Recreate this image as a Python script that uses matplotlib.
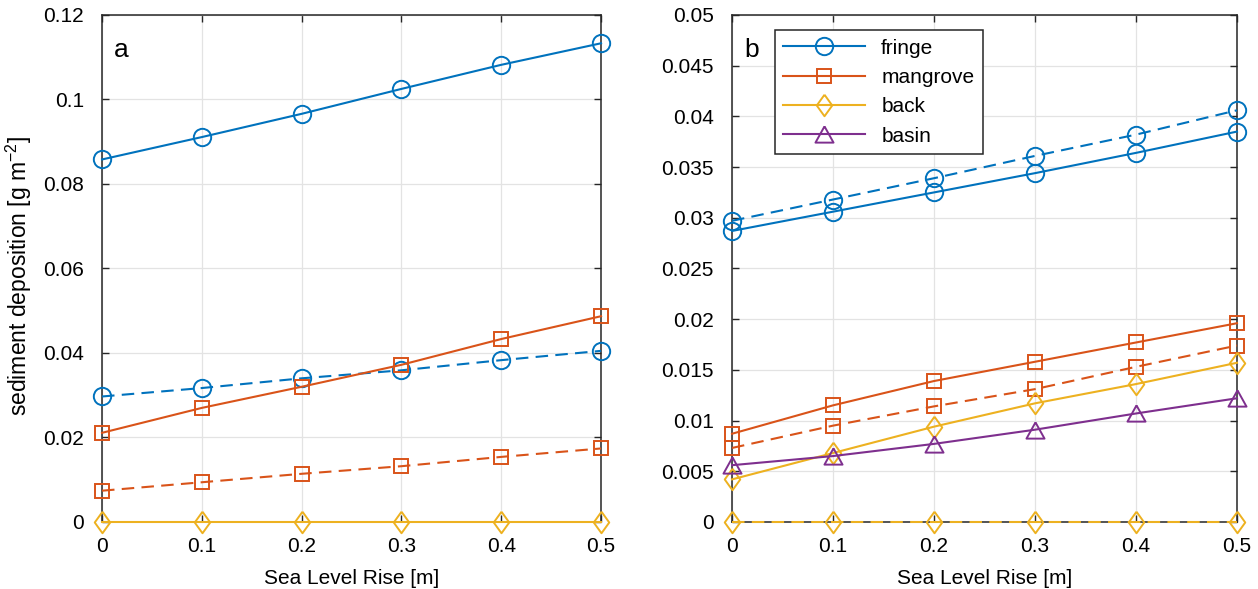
import matplotlib
matplotlib.use('Agg')
import matplotlib.pyplot as plt
from matplotlib.ticker import FuncFormatter

slr = [0, 0.1, 0.2, 0.3, 0.4, 0.5]

# panel a
a_fringe = [0.0858, 0.0911, 0.0966, 0.1025, 0.1082, 0.1133]
a_fringe_d = [0.0297, 0.0317, 0.0340, 0.0359, 0.0383, 0.0405]
a_mangrove = [0.0211, 0.0270, 0.0320, 0.0372, 0.0433, 0.0487]
a_mangrove_d = [0.0074, 0.0094, 0.0114, 0.0132, 0.0154, 0.0174]
a_back = [0, 0, 0, 0, 0, 0]

# panel b
b_fringe = [0.0287, 0.0306, 0.0325, 0.0344, 0.0364, 0.0385]
b_fringe_d = [0.0297, 0.0318, 0.0339, 0.0361, 0.0382, 0.0406]
b_mangrove = [0.0087, 0.0115, 0.0139, 0.0158, 0.0177, 0.0196]
b_mangrove_d = [0.0073, 0.0095, 0.0114, 0.0131, 0.0153, 0.0174]
b_back = [0.0042, 0.0068, 0.0094, 0.0117, 0.0136, 0.0157]
b_back_d = [0, 0, 0, 0, 0, 0]
b_basin = [0.0056, 0.0065, 0.0077, 0.0091, 0.0107, 0.0122]

BLUE = '#0072BD'
ORANGE = '#D95319'
YELLOW = '#EDB120'
PURPLE = '#7E2F8E'

DIAMOND = [(0, 1), (0.72, 0), (0, -1), (-0.72, 0), (0, 1)]
TRI = [(0, 0.9), (1, -0.9), (-1, -0.9), (0, 0.9)]

style = {
    'o': dict(marker='o', markersize=12.5),
    's': dict(marker='s', markersize=10),
    'd': dict(marker=DIAMOND, markersize=15.5),
    '^': dict(marker=TRI, markersize=13),
}


def draw(ax, y, color, mk, dashed=False, label=None):
    ls = (0, (6, 3.5)) if dashed else '-'
    ax.plot(slr, y, color=color, linestyle=ls, linewidth=1.5,
            markerfacecolor='none', markeredgecolor=color, markeredgewidth=1.4,
            clip_on=False, label=label, zorder=3, **style[mk])


def fmt(v, pos):
    return '%g' % round(v, 6)


def setup(ax, ymax, ystep, letter):
    ax.set_xlim(0, 0.5)
    ax.set_ylim(0, ymax)
    ax.set_xticks(slr)
    n = int(round(ymax / ystep))
    ax.set_yticks([i * ystep for i in range(n + 1)])
    ax.xaxis.set_major_formatter(FuncFormatter(fmt))
    ax.yaxis.set_major_formatter(FuncFormatter(fmt))
    ax.grid(True, color='#e3e3e3', linewidth=0.9)
    ax.set_axisbelow(True)
    ax.tick_params(direction='in', top=True, right=True, length=5,
                   width=1, color='#262626', labelsize=15)
    ax.tick_params(axis='x', pad=11)
    ax.tick_params(axis='y', pad=13)
    for s in ax.spines.values():
        s.set_color('#262626')
        s.set_linewidth(1.1)
    ax.set_xlabel('Sea Level Rise [m]', fontsize=15, labelpad=9)
    ax.text(0.038, 0.93, letter, transform=ax.transAxes, fontsize=19,
            ha='center', va='center')


def main():
    plt.rcParams['font.family'] = ['Liberation Sans', 'DejaVu Sans']
    plt.rcParams['mathtext.default'] = 'regular'
    fig = plt.figure(figsize=(12.58, 5.89), dpi=100)
    ax1 = fig.add_axes([0.0811, 0.1138, 0.3967, 0.8608])
    ax2 = fig.add_axes([0.5819, 0.1138, 0.4014, 0.8608])

    draw(ax1, a_fringe, BLUE, 'o')
    draw(ax1, a_fringe_d, BLUE, 'o', dashed=True)
    draw(ax1, a_mangrove, ORANGE, 's')
    draw(ax1, a_mangrove_d, ORANGE, 's', dashed=True)
    draw(ax1, a_back, YELLOW, 'd')
    setup(ax1, 0.12, 0.02, 'a')
    ax1.set_ylabel('sediment deposition [g m$^{-2}$]', fontsize=16.5,
                   va='center')
    ax1.yaxis.set_label_coords(-0.166, 0.485)

    draw(ax2, b_fringe, BLUE, 'o', label='fringe')
    draw(ax2, b_fringe_d, BLUE, 'o', dashed=True)
    draw(ax2, b_mangrove, ORANGE, 's', label='mangrove')
    draw(ax2, b_mangrove_d, ORANGE, 's', dashed=True)
    draw(ax2, b_back, YELLOW, 'd', label='back')
    draw(ax2, b_back_d, YELLOW, 'd', dashed=True)
    draw(ax2, b_basin, PURPLE, '^', label='basin')
    setup(ax2, 0.05, 0.005, 'b')

    leg = ax2.legend(loc='upper left', bbox_to_anchor=(0.085, 0.97),
                     borderaxespad=0, fontsize=15, handlelength=3.9,
                     fancybox=False, framealpha=1, edgecolor='#262626')
    leg.get_frame().set_linewidth(1.1)

    fig.savefig('out.png', dpi=100)


if __name__ == "__main__":
    main()
